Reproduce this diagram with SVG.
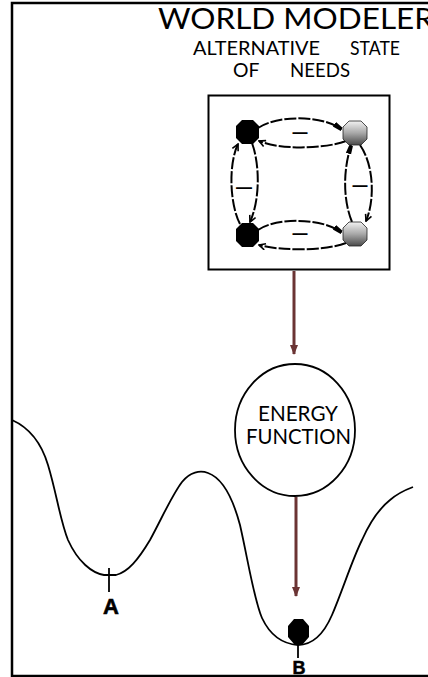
<svg xmlns="http://www.w3.org/2000/svg" width="428" height="677" viewBox="0 0 428 677">
  <defs>
    <style>
      .frame { fill: none; stroke: #000; stroke-width: 2.5; }
      .thin { font-family: "Lato", "Open Sans", "Liberation Sans", sans-serif; font-weight: 400; fill: #000; }
      .bold { font-family: "Liberation Sans", "DejaVu Sans", sans-serif; font-weight: bold; fill: #000; }
      .edge { fill: none; stroke: #000; stroke-width: 2; stroke-dasharray: 12 2; }
      .flow { fill: none; stroke: #6b3434; stroke-width: 3; }
      .curve { fill: none; stroke: #000; stroke-width: 1.8; }
      .sign { font-family: "Liberation Sans", sans-serif; font-size: 16px; font-weight: bold; fill: #000; }
    </style>
    <linearGradient id="grayBall" x1="0" y1="0" x2="0" y2="1">
      <stop offset="0" stop-color="#f2f2f2"/>
      <stop offset="0.5" stop-color="#a8a8a8"/>
      <stop offset="1" stop-color="#4a4a4a"/>
    </linearGradient>
    <marker id="open" viewBox="0 0 10 10" refX="9" refY="5" markerWidth="8" markerHeight="8" orient="auto" markerUnits="userSpaceOnUse">
      <path d="M1,1 L9,5 L1,9" fill="none" stroke="#000" stroke-width="2"/>
    </marker>
    <marker id="block" viewBox="0 0 10 10" refX="9" refY="5" markerWidth="9" markerHeight="9" orient="auto" markerUnits="userSpaceOnUse">
      <path d="M0,2 L10,3 L10,7 L0,8 Z" fill="#000"/>
    </marker>
    <marker id="flowHead" viewBox="0 0 10 10" refX="9" refY="5" markerWidth="10" markerHeight="10" orient="auto" markerUnits="userSpaceOnUse">
      <path d="M0,1 L10,5 L0,9 Z" fill="#6b3434"/>
    </marker>
  </defs>

  <rect width="428" height="677" fill="#fff"/>

  <!-- page frame (open on the right) -->
  <path class="frame" d="M428,3 H12 V676 H428"/>

  <!-- headings -->
  <g id="title">
    <text class="thin" x="158" y="29" font-size="28" textLength="276" lengthAdjust="spacingAndGlyphs">WORLD MODELER</text>
    <text class="thin" y="55" font-size="20"><tspan x="193" textLength="127" lengthAdjust="spacingAndGlyphs">ALTERNATIVE</tspan> <tspan x="350" textLength="50" lengthAdjust="spacingAndGlyphs">STATE</tspan></text>
    <text class="thin" y="77" font-size="20"><tspan x="233" textLength="26" lengthAdjust="spacingAndGlyphs">OF</tspan> <tspan x="290" textLength="60" lengthAdjust="spacingAndGlyphs">NEEDS</tspan></text>
  </g>

  <!-- network of needs -->
  <g id="network-box">
    <rect x="208.5" y="95.5" width="181" height="174" fill="none" stroke="#000" stroke-width="2"/>
  </g>

  <g id="connectors">
    <!-- top pair -->
    <path class="edge" d="M258,128 C275,116 320,114 341,129" marker-end="url(#block)"/>
    <path class="edge" d="M346,141 C325,149 280,150 259,141" marker-end="url(#open)"/>
    <!-- left pair -->
    <path class="edge" d="M240,224 C230,205 228,165 238,144" marker-end="url(#open)"/>
    <path class="edge" d="M252,143 C260,165 260,200 250,222" marker-end="url(#open)"/>
    <!-- right pair -->
    <path class="edge" d="M352,222 C343,200 343,170 351,146" marker-end="url(#block)"/>
    <path class="edge" d="M360,145 C374,165 375,200 366,221" marker-end="url(#open)"/>
    <!-- bottom pair -->
    <path class="edge" d="M258,230 C275,218 320,217 341,232" marker-end="url(#block)"/>
    <path class="edge" d="M346,243 C325,251 280,251 259,245" marker-end="url(#open)"/>
    <!-- flow into the energy function and onto the landscape -->
    <path class="flow" d="M294,271 V354" marker-end="url(#flowHead)"/>
    <path class="flow" d="M296,497 V596" marker-end="url(#flowHead)"/>
  </g>

  <!-- weight signs -->
  <g id="weights">
    <text class="sign" x="300" y="138" text-anchor="middle" textLength="15" lengthAdjust="spacingAndGlyphs">—</text>
    <text class="sign" x="244" y="193" text-anchor="middle" textLength="16" lengthAdjust="spacingAndGlyphs">—</text>
    <text class="sign" x="360" y="191" text-anchor="middle" textLength="15" lengthAdjust="spacingAndGlyphs">—</text>
    <text class="sign" x="300" y="239" text-anchor="middle" textLength="15" lengthAdjust="spacingAndGlyphs">—</text>
  </g>

  <g id="node-tl">
    <polygon points="242,120 253,120 259,126 259,138 253,144 242,144 236,138 236,126" fill="#000"/>
  </g>
  <g id="node-tr">
    <polygon points="349,121 361,121 367,127 367,139 361,145 349,145 343,139 343,127" fill="url(#grayBall)" stroke="#222" stroke-width="0.8"/>
  </g>
  <g id="node-bl">
    <polygon points="242,223 253,223 259,229 259,241 253,247 242,247 236,241 236,229" fill="#000"/>
  </g>
  <g id="node-br">
    <polygon points="349,222 361,222 367,228 367,240 361,246 349,246 343,240 343,228" fill="url(#grayBall)" stroke="#222" stroke-width="0.8"/>
  </g>

  <!-- energy function -->
  <g id="energy-function">
    <ellipse cx="295" cy="430" rx="60" ry="66" fill="#fff" stroke="#000" stroke-width="1.8"/>
    <text class="thin" x="298" y="421" font-size="21" text-anchor="middle" textLength="80" lengthAdjust="spacingAndGlyphs">ENERGY</text>
    <text class="thin" x="298.5" y="444" font-size="21" text-anchor="middle" textLength="105" lengthAdjust="spacingAndGlyphs">FUNCTION</text>
  </g>

  <!-- energy landscape -->
  <g id="landscape">
    <path class="curve" d="M12,420 C30,428 42,445 48,465 C57,495 60,520 68,540 C78,562 92,573 104,575 L116,575 C128,572 138,560 150,540 C162,518 172,495 182,482 C190,472 200,470 208,473 C222,478 232,495 240,525 C248,560 254,600 262,618 C270,635 283,644 298,645 C310,645 322,638 332,615 C342,592 352,560 362,540 C370,522 380,508 390,500 C398,493 405,490 413,487"/>
  </g>

  <g id="state-a">
    <line x1="109" y1="568" x2="109" y2="592" stroke="#000" stroke-width="1.8"/>
    <text class="bold" x="111" y="614" font-size="22" text-anchor="middle" stroke="#000" stroke-width="0.6">A</text>
  </g>

  <g id="state-b">
    <polygon points="294,619 303,619 309,626 309,637 303,644 294,644 288,637 288,626" fill="#000"/>
    <line x1="298" y1="644" x2="298" y2="658" stroke="#000" stroke-width="1.8"/>
    <text class="bold" x="299" y="674" font-size="18" text-anchor="middle" stroke="#000" stroke-width="0.5">B</text>
  </g>
</svg>
